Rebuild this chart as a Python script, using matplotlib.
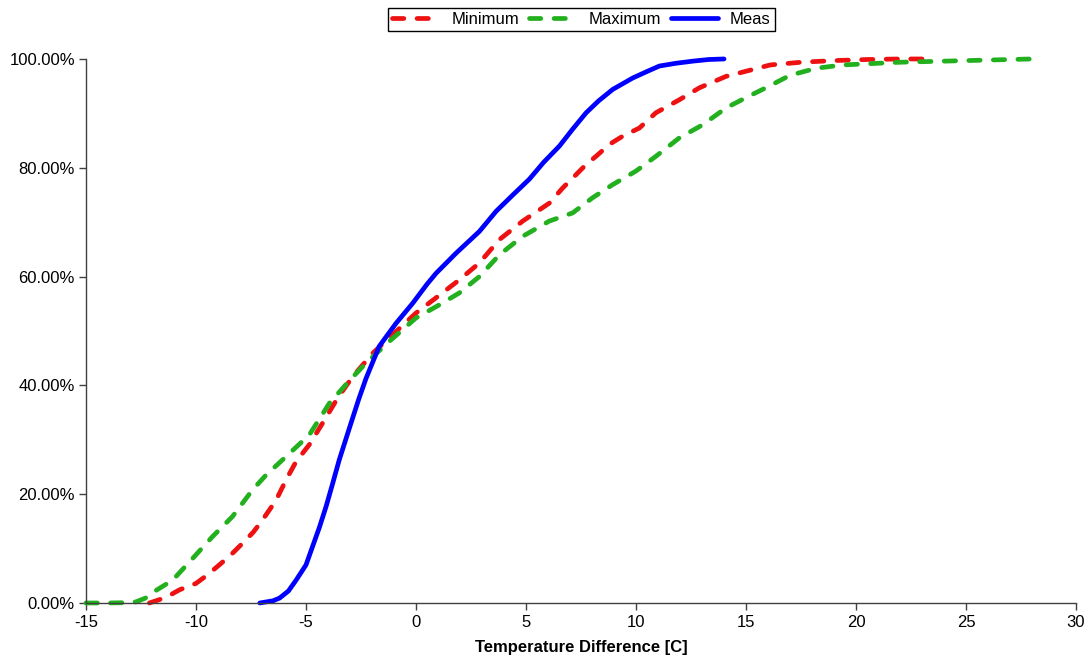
import matplotlib
matplotlib.use("Agg")
import matplotlib.pyplot as plt
from matplotlib.ticker import PercentFormatter, MultipleLocator

plt.rcParams['font.family'] = ['Liberation Sans', 'DejaVu Sans']
plt.rcParams['axes.unicode_minus'] = False

# cumulative distributions of the temperature difference [C] -> percent
min_x = [-12.12, -11.67, -11.2, -10.76, -10.0, -9.5, -8.94, -8.4, -7.88, -7.4,
         -6.97, -6.36, -5.91, -5.45, -4.85, -4.24, -3.56, -2.88, -1.97, -0.91,
         0.0, 0.91, 1.97, 2.88, 3.79, 4.85, 6.06, 6.67, 7.12, 7.73, 8.18, 8.79,
         9.39, 10.15, 10.9, 11.97, 12.88, 14.09, 15.15, 16.1, 17.5, 19.0, 20.5,
         22.0, 23.0]
min_y = [0, 0.6, 1.4, 2.4, 3.6, 5.1, 7.0, 8.9, 11.0, 13.0,
         15.3, 18.9, 22.6, 26.0, 29.1, 33.1, 37.7, 41.6, 45.9, 49.9,
         53.3, 56.1, 59.4, 62.5, 66.8, 70.2, 73.5, 76.3, 78.1, 80.6, 82.1, 84.3,
         85.8, 87.3, 90.1, 92.5, 94.7, 96.8, 97.9, 98.9, 99.4, 99.7, 99.9,
         100, 100]

max_x = [-15.0, -14.0, -13.3, -12.73, -12.3, -11.9, -11.06, -10.15, -9.25, -8.34,
         -7.43, -6.82, -5.91, -4.85, -3.94, -3.0, -2.27, -1.21, 0.0, 1.06,
         1.97, 2.88, 3.79, 4.85, 6.06, 7.12, 8.03, 8.94, 10.0, 10.9,
         11.97, 13.03, 14.09, 15.15, 16.0, 17.0, 18.2, 19.4, 22.0, 25.0, 28.0]
max_y = [0, 0, 0.05, 0.2, 0.9, 2.1, 4.2, 8.2, 12.2, 15.9,
         20.8, 23.5, 26.9, 30.9, 36.7, 41.0, 44.1, 48.1, 52.4, 54.8,
         57.0, 60.0, 64.0, 67.4, 70.2, 71.7, 74.5, 76.9, 79.4, 82.1,
         85.5, 87.9, 91.0, 93.2, 94.9, 97.0, 98.3, 98.9, 99.4, 99.7, 100]

meas_x = [-7.1, -6.5, -6.2, -5.8, -5.45, -5.0, -4.7, -4.4, -4.09, -3.8,
          -3.49, -3.0, -2.6, -2.27, -1.67, -0.91, -0.15, 0.5, 0.91, 1.82, 2.88,
          3.64, 4.4, 5.15, 5.8, 6.52, 7.1, 7.73, 8.3, 8.94, 9.85,
          10.5, 11.06, 11.8, 12.58, 13.3, 14.0]
meas_y = [0, 0.4, 0.9, 2.2, 4.2, 7.0, 10.4, 13.8, 17.7, 21.8,
          26.3, 32.5, 37.5, 41.3, 47.2, 51.4, 55.1, 58.6, 60.6, 64.3, 68.3,
          72.0, 75.0, 77.9, 81.0, 84.0, 87.0, 90.1, 92.3, 94.4, 96.5,
          97.7, 98.7, 99.2, 99.6, 99.9, 100]

fig = plt.figure(figsize=(10.9, 6.64), dpi=100)
ax = fig.add_axes([0.0789, 0.0919, 0.9083, 0.8193])

dash = (2.4, 2.8)
l1, = ax.plot(min_x, min_y, color='#ee1111', lw=3.4, dashes=dash,
              dash_capstyle='round', solid_capstyle='round', label='Minimum', clip_on=False)
l2, = ax.plot(max_x, max_y, color='#22b01e', lw=3.4, dashes=dash,
              dash_capstyle='round', solid_capstyle='round', label='Maximum', clip_on=False)
l3, = ax.plot(meas_x, meas_y, color='#0000ff', lw=3.4,
              solid_capstyle='round', solid_joinstyle='round', label='Meas', clip_on=False)

ax.set_xlim(-15, 30)
ax.set_ylim(0, 100)
ax.xaxis.set_major_locator(MultipleLocator(5))
ax.yaxis.set_major_locator(MultipleLocator(20))
ax.yaxis.set_major_formatter(PercentFormatter(xmax=100, decimals=2))

ax.spines['right'].set_visible(False)
ax.spines['top'].set_visible(False)
for s in ('left', 'bottom'):
    ax.spines[s].set_color('#404040')
    ax.spines[s].set_linewidth(1.0)
ax.tick_params(direction='out', length=5, width=1, color='#404040', labelsize=12)
ax.tick_params(axis='y', pad=3)
ax.tick_params(axis='x', pad=4)

ax.set_xlabel('Temperature Difference [C]', fontsize=12, fontweight='bold', labelpad=7)

leg = fig.legend(handles=[l1, l2, l3], loc='center', bbox_to_anchor=(0.5335, 0.971),
                 ncol=3, fontsize=12, frameon=True, fancybox=False,
                 edgecolor='black', framealpha=1, handlelength=2.85,
                 columnspacing=0.6, handletextpad=0.7, borderpad=0.25,
                 borderaxespad=0.2)
leg.get_frame().set_linewidth(1.0)

fig.savefig('out.png', dpi=100)
